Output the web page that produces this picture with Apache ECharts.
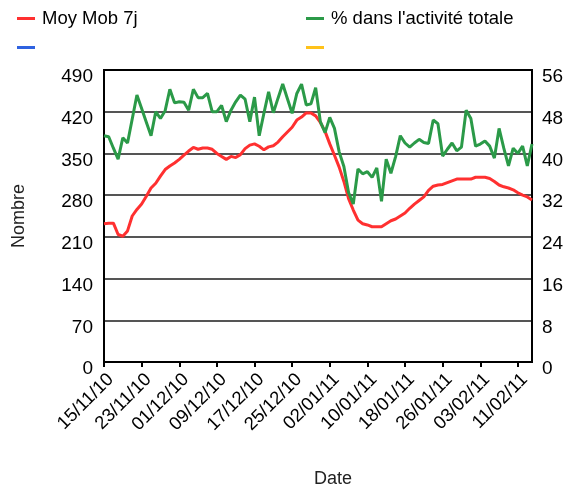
<!DOCTYPE html>
<html>
<head>
<meta charset="utf-8">
<script src="https://cdn.jsdelivr.net/npm/echarts@6/dist/echarts.min.js"></script>
<style>html,body{margin:0;padding:0;background:#fff;}#c{width:563px;height:486px;}</style>
</head>
<body>
<div id="c"></div>
<script>
// Daily categories from 15/11/10 to 14/02/11
var startDate = Date.UTC(2010, 10, 15);
var dayCount = 92;
var categories = [];
for (var i = 0; i < dayCount; i++) {
  var d = new Date(startDate + i * 86400000);
  var dd = ('0' + d.getUTCDate()).slice(-2);
  var mm = ('0' + (d.getUTCMonth() + 1)).slice(-2);
  var yy = ('' + d.getUTCFullYear()).slice(-2);
  categories.push(dd + '/' + mm + '/' + yy);
}

var seriesNames = ['Moy Mob 7j', "% dans l'activité totale", 'vide1', 'vide2'];

var moyMob7j = [
  232,233,233,214,211,220,245,256,265,278,
  292,300,312,323,329,334,340,347,354,360,
  357,359,359,357,350,345,340,345,343,348,
  358,364,366,362,356,361,363,369,378,386,
  394,406,411,418,418,413,402,387,366,347,
  327,303,274,255,238,232,230,227,227,227,
  232,237,240,245,250,258,265,271,277,288,
  295,297,298,301,304,307,307,307,307,310,
  310,310,308,303,297,294,292,289,284,280,
  277,272
];

var pctActivite = [
  43.4,43.2,41.0,38.9,43.0,42.0,46.6,51.2,48.6,46.0,
  43.4,48.0,46.7,48.2,52.3,49.7,49.9,49.8,48.3,52.3,
  50.7,50.7,51.5,48.0,48.0,49.2,46.1,48.3,49.9,51.2,
  50.4,46.1,50.8,43.4,47.7,51.8,47.8,50.6,53.3,50.5,
  47.7,51.5,53.3,49.3,49.5,52.6,46.1,44.0,46.9,44.8,
  40.3,37.5,32.5,30.3,37.0,36.1,36.5,35.4,37.2,30.8,
  38.9,36.2,39.4,43.4,42.0,41.2,42.0,42.7,42.1,41.9,
  46.4,45.7,39.5,40.8,42.0,40.5,41.2,48.3,46.7,41.4,
  41.8,42.4,41.4,39.1,44.8,41.0,37.6,41.0,40.0,41.4,
  37.6,41.8
];

var leftTicks = {min: 0, max: 490, interval: 70};
var rightTicks = {min: 0, max: 56, interval: 8};

var FONT = 'Liberation Sans, Arial, sans-serif';
var chart = echarts.init(document.getElementById('c'), null, {renderer: 'canvas'});

function legendFmt(keep) {
  return function (n) { return n === keep ? n : ''; };
}

var gridColors = ['#555', '#555', '#555', '#555', '#555', '#555', '#555', '#000'];

function makeLegend(left, names) {
  return {
    orient: 'vertical', left: left, top: 9, itemGap: 18, padding: 0,
    itemWidth: 18, itemHeight: 3, icon: 'rect',
    data: names,
    formatter: legendFmt(names[0]),
    textStyle: {fontSize: 18.5, color: '#000', fontFamily: FONT, padding: [0, 0, 0, 2]},
    selectedMode: false
  };
}

chart.setOption({
  animation: false,
  backgroundColor: '#fff',
  textStyle: {fontFamily: FONT},
  legend: [
    makeLegend(17, [seriesNames[0], seriesNames[2]]),
    makeLegend(306, [seriesNames[1], seriesNames[3]])
  ],
  grid: {
    left: 104, right: 31, top: 70, bottom: 124,
    containLabel: false, outerBoundsMode: 'none',
    show: true, borderColor: '#000', borderWidth: 2, backgroundColor: 'transparent'
  },
  xAxis: {
    type: 'category',
    data: categories,
    boundaryGap: false,
    name: 'Date',
    nameLocation: 'middle',
    nameGap: 108,
    nameTextStyle: {fontSize: 18, color: '#222', fontFamily: FONT, padding: [0, 0, 0, 30]},
    axisLine: {lineStyle: {color: '#000', width: 2}},
    axisTick: {show: true, interval: 7, length: 5, lineStyle: {color: '#000', width: 2}},
    axisLabel: {interval: 7, rotate: 45, fontSize: 18.5, color: '#000', margin: 8, verticalAlign: 'top', fontFamily: FONT},
    splitLine: {show: false}
  },
  yAxis: [
    {
      type: 'value',
      min: leftTicks.min, max: leftTicks.max, interval: leftTicks.interval,
      name: 'Nombre',
      nameLocation: 'middle',
      nameGap: 76,
      nameTextStyle: {fontSize: 18, color: '#222', fontFamily: FONT},
      axisLine: {show: true, lineStyle: {color: '#000', width: 2}},
      axisTick: {show: false},
      axisLabel: {fontSize: 19, color: '#000', margin: 11, verticalAlign: 'top', lineHeight: 14, fontFamily: FONT},
      splitLine: {show: true, lineStyle: {color: gridColors, width: 2}}
    },
    {
      type: 'value',
      min: rightTicks.min, max: rightTicks.max, interval: rightTicks.interval,
      position: 'right',
      axisLine: {show: true, lineStyle: {color: '#000', width: 2}},
      axisTick: {show: false},
      axisLabel: {fontSize: 19, color: '#000', margin: 10, verticalAlign: 'top', lineHeight: 14, fontFamily: FONT},
      splitLine: {show: false}
    }
  ],
  series: [
    {
      name: seriesNames[0], type: 'line', yAxisIndex: 0,
      data: moyMob7j, showSymbol: false, symbol: 'none',
      itemStyle: {color: '#ff3030'},
      lineStyle: {color: '#ff3030', width: 3}
    },
    {
      name: seriesNames[1], type: 'line', yAxisIndex: 1,
      data: pctActivite, showSymbol: false, symbol: 'none',
      itemStyle: {color: '#2b9a48'},
      lineStyle: {color: '#2b9a48', width: 3}
    },
    {
      name: seriesNames[2], type: 'line', yAxisIndex: 0, data: [],
      symbol: 'none', itemStyle: {color: '#2f62e0'}, lineStyle: {color: '#2f62e0', width: 3}
    },
    {
      name: seriesNames[3], type: 'line', yAxisIndex: 1, data: [],
      symbol: 'none', itemStyle: {color: '#ffc21a'}, lineStyle: {color: '#ffc21a', width: 3}
    }
  ]
});
</script>
</body>
</html>
